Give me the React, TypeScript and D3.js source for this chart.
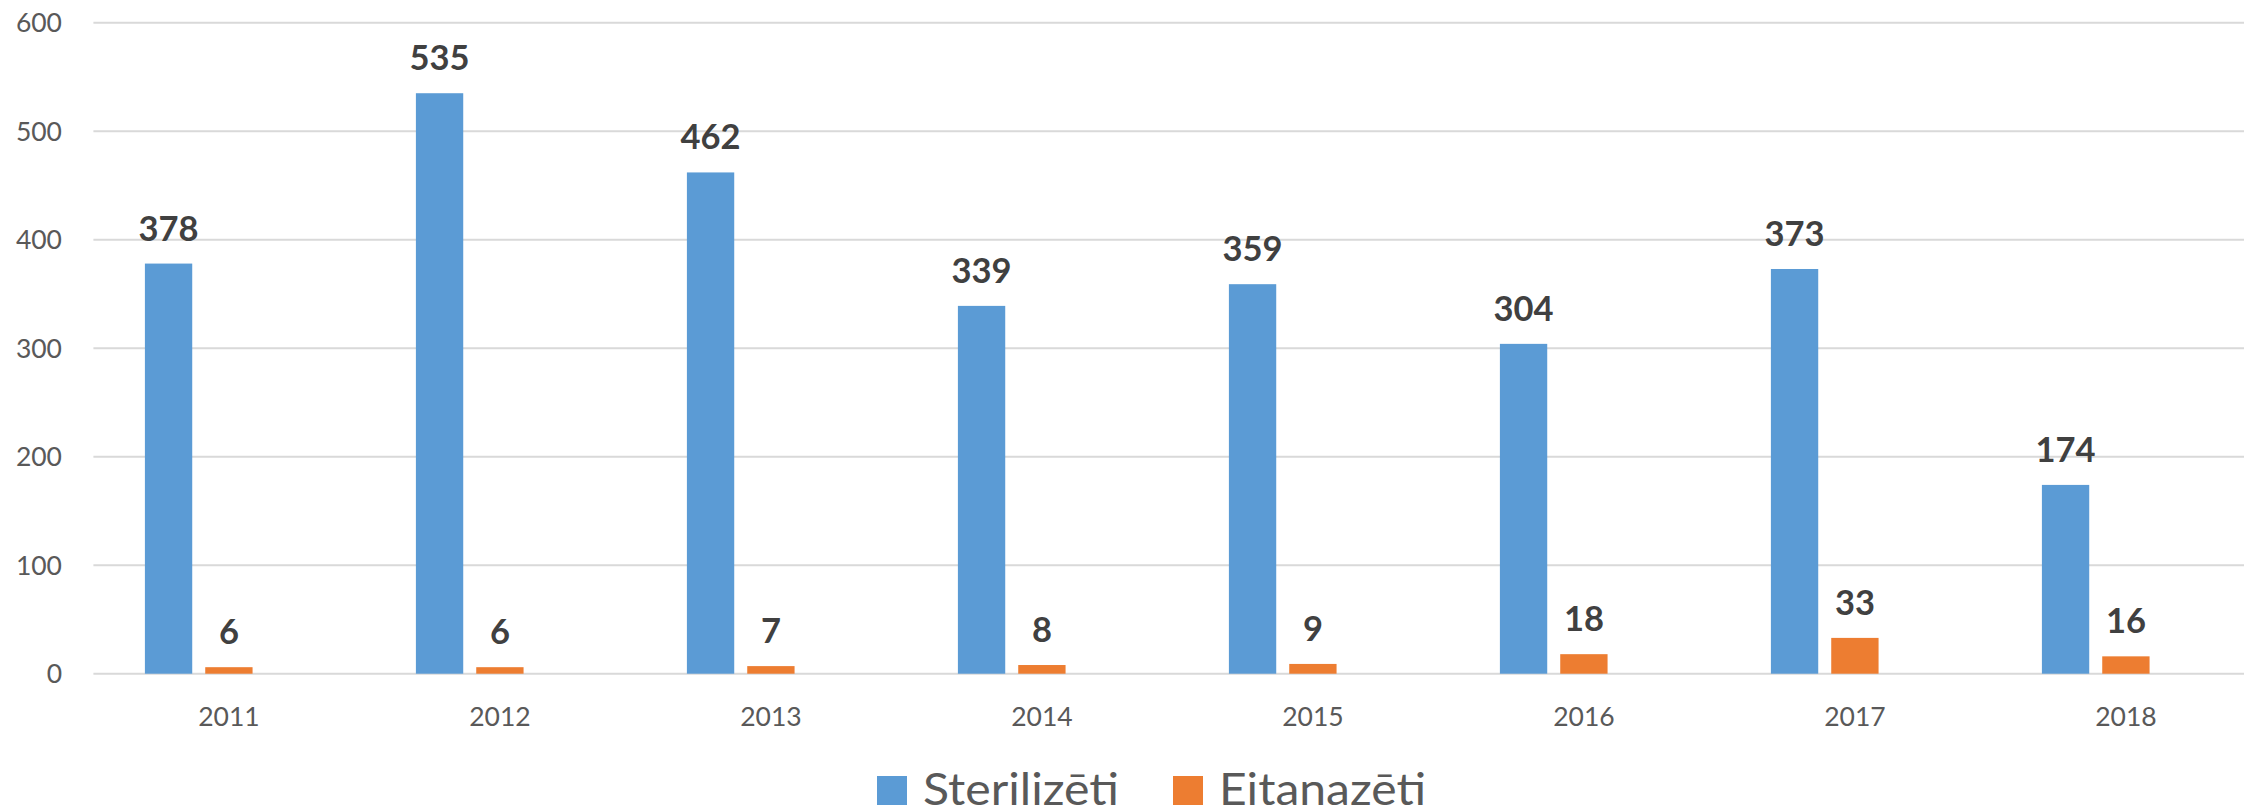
import * as d3 from "d3";

const years = ["2011", "2012", "2013", "2014", "2015", "2016", "2017", "2018"];
const sterilized = [378, 535, 462, 339, 359, 304, 373, 174];
const euthanized = [6, 6, 7, 8, 9, 18, 33, 16];
const seriesNames = ["Sterilizēti", "Eitanazēti"];
const seriesColors = ["#5B9BD5", "#ED7D31"];
const yTicks = [0, 100, 200, 300, 400, 500, 600];

const W = 2244;
const H = 808;
const font = "Lato, Carlito, Calibri, sans-serif";

export default function App() {
  // plot area (the right edge runs past the picture, like the original crop)
  const x = d3.scaleBand().domain(years).range([93.4, 2261.4]).padding(0);
  const y = d3.scaleLinear().domain([0, 600]).range([673.7, 22.7]);

  // three slots per year — the third series is empty in the source
  const bw = x.bandwidth();
  const groupW = 168;
  const inner = d3
    .scaleBand()
    .domain(["a", "b", "c"])
    .range([(bw - groupW) / 2, (bw + groupW) / 2])
    .paddingInner(0.2156)
    .paddingOuter(0);
  const slots = ["a", "b"];
  const series = [sterilized, euthanized];

  // legend layout
  const legendX = [877, 1173];
  const legendW = [196, 207];

  return (
    <div style={{ position: "fixed", left: 0, top: 0 }}>
      <svg width={W} height={H} style={{ display: "block", background: "#fff" }}>
        {/* gridlines */}
        {yTicks.map((t) => (
          <line
            key={t}
            x1={93.4}
            x2={W}
            y1={y(t)}
            y2={y(t)}
            stroke="#D9D9D9"
            strokeWidth={2}
          />
        ))}
        {/* y tick labels */}
        {yTicks.map((t) => (
          <text
            key={"yl" + t}
            x={62}
            y={y(t) + 9.5}
            textAnchor="end"
            fontFamily={font}
            fontSize={26.5}
            fill="#595959"
          >
            {t}
          </text>
        ))}
        {/* bars + value labels */}
        {series.map((vals, si) =>
          vals.map((v, i) => {
            const bx = (x(years[i]) ?? 0) + (inner(slots[si]) ?? 0);
            const by = y(v);
            return (
              <g key={si + "-" + i}>
                <rect
                  x={bx}
                  y={by}
                  width={inner.bandwidth()}
                  height={y(0) - by}
                  fill={seriesColors[si]}
                />
                <text
                  x={bx + inner.bandwidth() / 2}
                  y={by - 23}
                  textAnchor="middle"
                  fontFamily={font}
                  fontWeight="bold"
                  fontSize={34.5}
                  fill="#404040"
                >
                  {v}
                </text>
              </g>
            );
          }),
        )}
        {/* x category labels */}
        {years.map((yr) => (
          <text
            key={yr}
            x={(x(yr) ?? 0) + bw / 2}
            y={726}
            textAnchor="middle"
            fontFamily={font}
            fontSize={26.5}
            fill="#595959"
          >
            {yr}
          </text>
        ))}
        {/* legend */}
        {seriesNames.map((name, si) => {
          const lx = legendX[si];
          return (
            <g key={name}>
              <rect x={lx} y={776} width={30} height={29} fill={seriesColors[si]} />
              <text
                x={lx + 46}
                y={805}
                fontFamily={font}
                fontSize={44.6}
                fill="#595959"
                textLength={legendW[si]}
                lengthAdjust="spacingAndGlyphs"
              >
                {name}
              </text>
            </g>
          );
        })}
      </svg>
    </div>
  );
}
